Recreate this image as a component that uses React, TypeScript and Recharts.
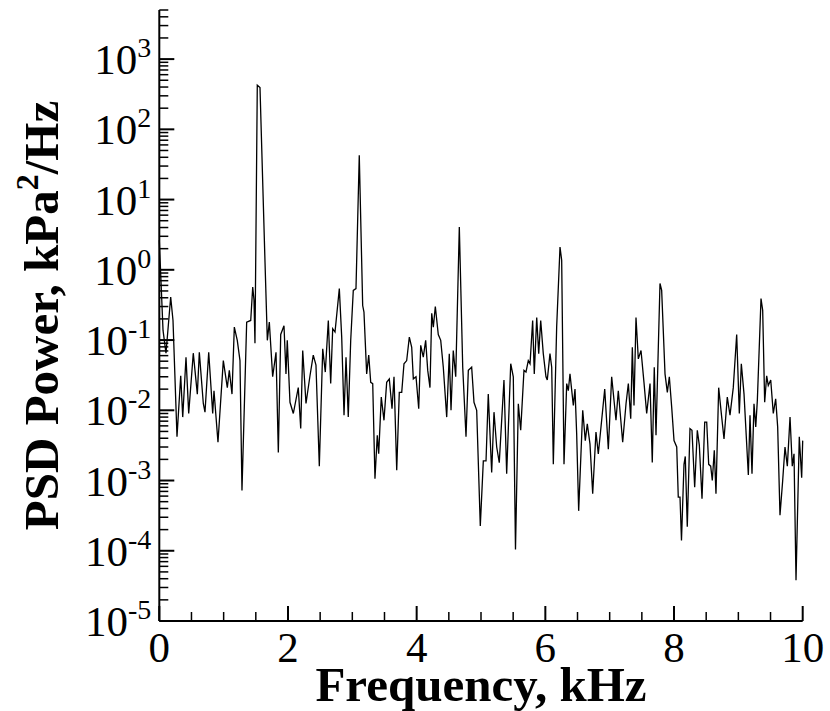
import React from "react";
import { LineChart, Line, XAxis, YAxis } from "recharts";

// frequency (kHz)
const FREQ = [
  0, 0.058, 0.104, 0.177, 0.213, 0.275, 0.333, 0.364, 0.415, 0.457,
  0.528, 0.591, 0.622, 0.684, 0.71, 0.768, 0.83, 0.85, 0.912, 0.995,
  1.057, 1.088, 1.13, 1.166, 1.212, 1.254, 1.285, 1.358, 1.421, 1.452,
  1.472, 1.487, 1.523, 1.565, 1.643, 1.679, 1.71, 1.762, 1.814, 1.85,
  1.887, 1.938, 1.969, 1.989, 2.031, 2.083, 2.16, 2.198, 2.229, 2.28,
  2.342, 2.393, 2.435, 2.487, 2.54, 2.58, 2.627, 2.664, 2.695, 2.731,
  2.798, 2.835, 2.871, 2.902, 2.937, 2.975, 3.015, 3.057, 3.108, 3.161,
  3.181, 3.223, 3.255, 3.286, 3.317, 3.352, 3.388, 3.41, 3.45, 3.492,
  3.534, 3.575, 3.617, 3.648, 3.69, 3.73, 3.768, 3.803, 3.845, 3.886,
  3.923, 3.948, 3.99, 4.032, 4.063, 4.103, 4.14, 4.172, 4.207, 4.234,
  4.259, 4.29, 4.336, 4.374, 4.414, 4.467, 4.507, 4.534, 4.569, 4.607,
  4.663, 4.716, 4.767, 4.803, 4.855, 4.891, 4.933, 4.989, 5.036, 5.078,
  5.113, 5.166, 5.202, 5.244, 5.284, 5.357, 5.399, 5.462, 5.502, 5.536,
  5.58, 5.617, 5.668, 5.699, 5.735, 5.762, 5.803, 5.828, 5.866, 5.897,
  5.928, 5.968, 6.01, 6.03, 6.072, 6.099, 6.124, 6.176, 6.228, 6.254,
  6.29, 6.332, 6.357, 6.383, 6.435, 6.461, 6.487, 6.518, 6.581, 6.621,
  6.652, 6.694, 6.736, 6.787, 6.823, 6.85, 6.923, 6.979, 7.031, 7.098,
  7.134, 7.202, 7.254, 7.29, 7.327, 7.352, 7.378, 7.409, 7.445, 7.487,
  7.533, 7.575, 7.627, 7.662, 7.693, 7.72, 7.782, 7.808, 7.86, 7.896,
  7.927, 7.964, 8.0, 8.042, 8.066, 8.093, 8.116, 8.155, 8.175, 8.206,
  8.248, 8.279, 8.321, 8.362, 8.393, 8.435, 8.477, 8.508, 8.539, 8.57,
  8.595, 8.626, 8.652, 8.694, 8.741, 8.777, 8.828, 8.87, 8.921, 8.974,
  9.015, 9.046, 9.088, 9.155, 9.181, 9.212, 9.243, 9.27, 9.295, 9.352,
  9.378, 9.409, 9.44, 9.465, 9.503, 9.543, 9.58, 9.611, 9.647, 9.689,
  9.725, 9.761, 9.803, 9.838, 9.865, 9.896, 9.947, 9.984, 10.0,
];

// PSD power (kPa^2/Hz)
const PSD = [
  2.63, 0.137, 0.065, 0.41, 0.19, 0.0042, 0.031, 0.008, 0.057, 0.009,
  0.065, 0.017, 0.067, 0.0125, 0.0094, 0.067, 0.009, 0.019, 0.0035, 0.051,
  0.021, 0.037, 0.017, 0.153, 0.099, 0.051, 0.00072, 0.18, 0.19, 0.57,
  0.37, 0.09, 425, 394, 1.28, 0.099, 0.18, 0.03, 0.067, 0.0025,
  0.12, 0.16, 0.033, 0.099, 0.013, 0.009, 0.021, 0.0055, 0.071, 0.0125,
  0.031, 0.061, 0.044, 0.0016, 0.075, 0.035, 0.19, 0.024, 0.145, 0.13,
  0.54, 0.11, 0.0085, 0.057, 0.008, 0.099, 0.51, 0.54, 42.8, 0.31,
  0.25, 0.033, 0.061, 0.025, 0.024, 0.00106, 0.0044, 0.0024, 0.0154, 0.0072,
  0.025, 0.028, 0.0105, 0.03, 0.0014, 0.018, 0.018, 0.046, 0.051, 0.11,
  0.079, 0.028, 0.03, 0.0105, 0.084, 0.057, 0.099, 0.037, 0.021, 0.24,
  0.153, 0.3, 0.12, 0.099, 0.041, 0.008, 0.064, 0.01, 0.071, 0.03,
  4.07, 0.041, 0.0042, 0.037, 0.041, 0.013, 0.01, 0.000225, 0.0019, 0.0019,
  0.017, 0.0013, 0.0094, 0.003, 0.0018, 0.027, 0.00125, 0.046, 0.03, 0.000104,
  0.0124, 0.0052, 0.037, 0.035, 0.051, 0.046, 0.19, 0.033, 0.21, 0.064,
  0.19, 0.064, 0.03, 0.027, 0.064, 0.041, 0.0017, 0.153, 2.11, 1.37,
  0.0017, 0.024, 0.019, 0.033, 0.0117, 0.02, 0.0046, 0.00037, 0.01, 0.0037,
  0.0064, 0.0033, 0.00065, 0.0049, 0.0024, 0.0042, 0.02, 0.0028, 0.03, 0.0072,
  0.019, 0.0035, 0.0124, 0.024, 0.0076, 0.079, 0.0117, 0.21, 0.054, 0.071,
  0.025, 0.009, 0.024, 0.0018, 0.041, 0.0044, 0.64, 0.51, 0.033, 0.018,
  0.03, 0.011, 0.0037, 0.003, 0.00058, 0.00058, 0.00014, 0.0017, 0.0022, 0.00022,
  0.0055, 0.0052, 0.0008, 0.0052, 0.0032, 0.00055, 0.0068, 0.0068, 0.0017, 0.0016,
  0.001, 0.0027, 0.00065, 0.021, 0.008, 0.0039, 0.0154, 0.0085, 0.021, 0.12,
  0.009, 0.046, 0.017, 0.0012, 0.0085, 0.00125, 0.0124, 0.0058, 0.0138, 0.39,
  0.265, 0.013, 0.031, 0.0226, 0.027, 0.009, 0.0146, 0.0058, 0.00032, 0.001,
  0.003, 0.0016, 0.008, 0.0016, 0.0024, 0.000038, 0.0042, 0.0011, 0.0037,
];

const X_MAJOR = [0, 2, 4, 6, 8, 10];
const X_MINOR = [0.5, 1, 1.5, 2.5, 3, 3.5, 4.5, 5, 5.5, 6.5, 7, 7.5, 8.5, 9, 9.5];
const Y_DECADES = [-5, -4, -3, -2, -1, 0, 1, 2, 3];
const Y_MULT = [1, 2, 3, 4, 5, 6, 7, 8, 9];
const Y_MAX = 5000;

const data = FREQ.map((f, i) => ({ f, p: PSD[i] }));

const xTicks = [...X_MAJOR, ...X_MINOR].sort((a, b) => a - b);
const yTicks: number[] = [];
Y_DECADES.forEach((e) => {
  Y_MULT.forEach((m) => {
    const v = Number((m * Math.pow(10, e)).toPrecision(3));
    if (v <= Y_MAX) yTicks.push(v);
  });
});

const FONT = "'Liberation Serif', 'Times New Roman', serif";

const XTick = (props: any) => {
  const { x, y, payload } = props;
  const major = X_MAJOR.includes(payload.value);
  return (
    <g>
      <line x1={x} x2={x} y1={y} y2={y - (major ? 15 : 9)} stroke="#000" strokeWidth={major ? 2 : 1.5} />
      {major && (
        <text x={x} y={y + 41} textAnchor="middle" fontFamily={FONT} fontSize={43} fill="#000">
          {payload.value}
        </text>
      )}
    </g>
  );
};

const YTick = (props: any) => {
  const { x, y, payload } = props;
  const exp = Math.round(Math.log10(payload.value));
  const major = Math.abs(payload.value / Math.pow(10, exp) - 1) < 1e-6;
  return (
    <g>
      <line x1={x} x2={x + (major ? 15 : 9)} y1={y} y2={y} stroke="#000" strokeWidth={major ? 2 : 1.5} />
      {major && (
        <text x={x - 8} y={y + 15} textAnchor="end" fontFamily={FONT} fontSize={43} fill="#000">
          <tspan>10</tspan>
          <tspan dy={-17} fontSize={28}>{exp}</tspan>
        </text>
      )}
    </g>
  );
};

const XTitle = (props: any) => {
  const { x, y, width } = props.viewBox;
  return (
    <text x={x + width / 2} y={y + 80} textAnchor="middle" fontFamily={FONT} fontWeight="bold" fontSize={49} fill="#000">
      Frequency, kHz
    </text>
  );
};

const YTitle = (props: any) => {
  const { x, y, height } = props.viewBox;
  const cx = x - 1;
  const cy = y + height / 2;
  return (
    <text
      x={cx}
      y={cy}
      transform={`rotate(-90, ${cx}, ${cy})`}
      textAnchor="middle"
      fontFamily={FONT}
      fontWeight="bold"
      fontSize={49}
      fill="#000"
    >
      PSD Power, kPa<tspan dy={-20} fontSize={32}>2</tspan><tspan dy={20}>/Hz</tspan>
    </text>
  );
};

export default function App() {
  return (
    <div style={{ position: "absolute", left: 0, top: 0, background: "#fff" }}>
      <LineChart width={830} height={711} data={data} margin={{ top: 10, right: 27.3, bottom: 40, left: 59.3 }}>
        <XAxis
          dataKey="f"
          type="number"
          domain={[0, 10]}
          ticks={xTicks}
          interval={0}
          tickSize={0}
          tickMargin={0}
          tickLine={false}
          height={50}
          axisLine={{ stroke: "#000", strokeWidth: 2 }}
          tick={<XTick />}
          label={<XTitle />}
        />
        <YAxis
          dataKey="p"
          scale="log"
          domain={[1e-5, Y_MAX]}
          allowDataOverflow
          ticks={yTicks}
          interval={0}
          tickSize={0}
          tickMargin={0}
          tickLine={false}
          width={100}
          axisLine={{ stroke: "#000", strokeWidth: 2 }}
          tick={<YTick />}
          label={<YTitle />}
        />
        <Line
          type="linear"
          dataKey="p"
          stroke="#000"
          strokeWidth={1.3}
          dot={false}
          isAnimationActive={false}
        />
      </LineChart>
    </div>
  );
}
